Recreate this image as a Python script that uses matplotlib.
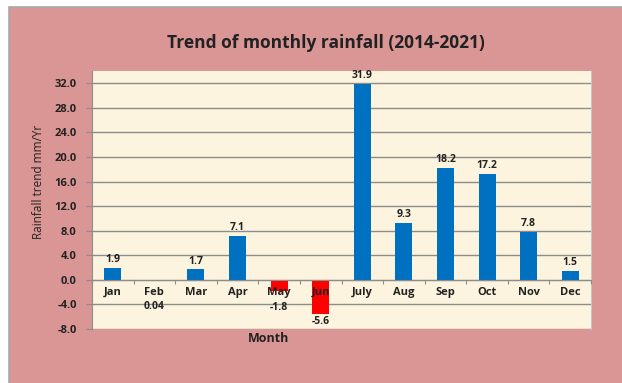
import matplotlib
matplotlib.use('Agg')
import matplotlib.pyplot as plt
from matplotlib.patches import Rectangle

months = ['Jan', 'Feb', 'Mar', 'Apr', 'May', 'Jun',
          'July', 'Aug', 'Sep', 'Oct', 'Nov', 'Dec']
trend = [1.9, 0.04, 1.7, 7.1, -1.8, -5.6, 31.9, 9.3, 18.2, 17.2, 7.8, 1.5]
labels = ['1.9', '0.04', '1.7', '7.1', '-1.8', '-5.6',
          '31.9', '9.3', '18.2', '17.2', '7.8', '1.5']
yticks = [-8, -4, 0, 4, 8, 12, 16, 20, 24, 28, 32]

PINK = '#d99694'
BEIGE = '#fcf4de'
BLUE = '#0070c0'
RED = '#ff0000'
TXT = '#222222'
GRID = '#8c8c8c'

plt.rcParams['font.family'] = ['Open Sans', 'DejaVu Sans']

fig = plt.figure(figsize=(6.22, 3.83), dpi=100, facecolor='white')
fig.patches.append(Rectangle((9 / 622, -0.02), 1.05, 376 / 383 + 0.02,
                             transform=fig.transFigure, facecolor=PINK,
                             edgecolor='#a8a8a8', lw=1.2, zorder=-10))

ax = fig.add_axes([92 / 622, 54 / 383, 499 / 622, 258 / 383])
ax.set_facecolor(BEIGE)
ax.set_axisbelow(False)  # month names drawn over the bars, as in the original

x = range(len(months))
colors = [BLUE if v >= 0 else RED for v in trend]
ax.bar(x, trend, width=0.41, color=colors, zorder=2)

ax.set_xlim(-0.5, len(months) - 0.5)
ax.set_ylim(-8, 34)
ax.set_yticks(yticks)
ax.set_yticklabels([f'{v:.1f}' for v in yticks], fontsize=8, fontweight='bold', color=TXT)
# gridlines behind the bars
for t in yticks:
    ax.axhline(t, color=GRID, lw=1.0, zorder=1)

# category boundary ticks on the zero line, labels at the centres
ax.spines['bottom'].set_position(('data', 0))
ax.spines['bottom'].set_color(GRID)
ax.set_xticks([i - 0.5 for i in range(len(months) + 1)])
ax.set_xticklabels([])
ax.tick_params(axis='x', which='major', length=3, color=GRID, direction='out')
ax.set_xticks(list(x), minor=True)
ax.set_xticklabels(months, minor=True, fontsize=8, fontweight='bold', color=TXT)
ax.tick_params(axis='x', which='minor', length=0, pad=5)

ax.tick_params(axis='y', length=4, color=GRID, pad=7)
ax.spines['left'].set_color(GRID)
ax.spines['top'].set_visible(False)
ax.spines['right'].set_color('#c8c8c8')

for i, (v, lab) in enumerate(zip(trend, labels)):
    if i == 1:
        # tiny value: label sits under the month name
        ax.annotate(lab, (i, 0), xytext=(0, -15), textcoords='offset points',
                    ha='center', va='top', fontsize=7.5, fontweight='bold', color=TXT)
    elif v < 0:
        off = -8 if v > -3 else -1
        ax.annotate(lab, (i, v), xytext=(0, off), textcoords='offset points',
                    ha='center', va='top', fontsize=7.5, fontweight='bold', color=TXT)
    else:
        ax.annotate(lab, (i, v), xytext=(0, 2), textcoords='offset points',
                    ha='center', va='bottom', fontsize=7.5, fontweight='bold', color=TXT)

fig.text(326 / 622, 1 - 43 / 383, 'Trend of monthly rainfall (2014-2021)',
         ha='center', va='center', fontsize=12.5, fontweight='bold', color=TXT)
fig.text(269 / 622, 1 - 338 / 383, 'Month', ha='center', va='center',
         fontsize=9, fontweight='bold', color=TXT)
fig.text(38 / 622, 1 - 182 / 383, 'Rainfall trend mm/Yr', ha='center', va='center',
         rotation=90, fontsize=8.5, color=TXT)

fig.savefig('out.png', dpi=100, facecolor=fig.get_facecolor())
